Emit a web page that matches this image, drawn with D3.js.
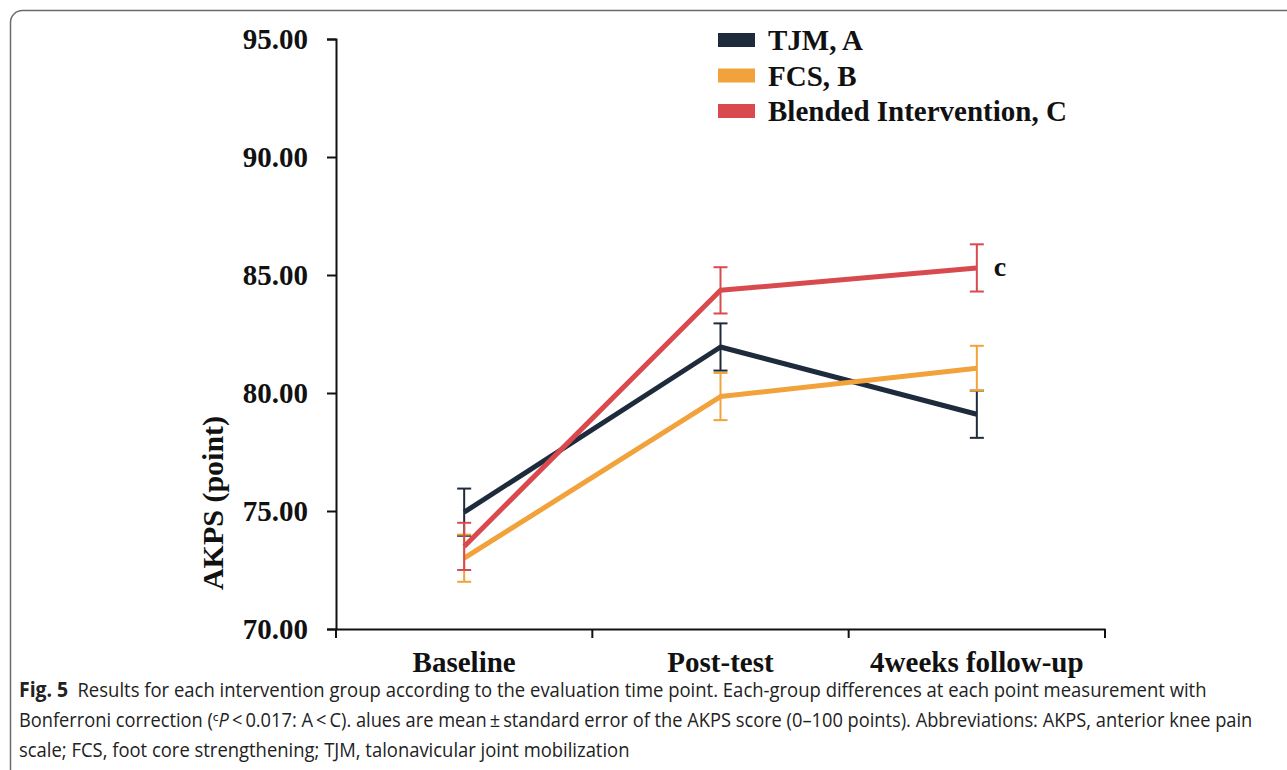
<html>
<head>
  <meta charset="utf-8">
  <title>AKPS by time point</title>
  <script src="https://cdn.jsdelivr.net/npm/d3@7"></script>
  <style>
    html, body { margin: 0; padding: 0; background: #fff; overflow: hidden; }
    svg { display: block; }
    .serif { font-family: "Liberation Serif", "Times New Roman", serif; font-weight: bold; }
    .caption { font-family: "Open Sans", "Noto Sans", sans-serif; font-size: 20px; fill: #222; }
  </style>
</head>
<body>
<svg width="1287" height="770"></svg>
<script>
const categories = ["Baseline", "Post-test", "4weeks follow-up"];
const groups = ["TJM, A", "FCS, B", "Blended Intervention, C"];
const tjmMean = [74.95, 81.95, 79.1];
const tjmSE = [1.0, 1.0, 1.0];
const fcsMean = [73.0, 79.85, 81.05];
const fcsSE = [1.0, 1.0, 0.95];
const blendedMean = [73.5, 84.35, 85.3];
const blendedSE = [1.0, 0.98, 1.0];
const yTicks = [70, 75, 80, 85, 90, 95];
const colors = ["#1e2b3c", "#f2a23a", "#d94a4f"];

const series = [
  { name: groups[0], mean: tjmMean, se: tjmSE, color: colors[0] },
  { name: groups[1], mean: fcsMean, se: fcsSE, color: colors[1] },
  { name: groups[2], mean: blendedMean, se: blendedSE, color: colors[2] }
];

const svg = d3.select("svg");

// frame around figure + caption
svg.append("rect")
  .attr("x", 10.5).attr("y", 10.5)
  .attr("width", 1400).attr("height", 1000)
  .attr("rx", 12)
  .attr("fill", "none")
  .attr("stroke", "#6b6b6b")
  .attr("stroke-width", 1.5);

const x = d3.scaleBand().domain(categories).range([336, 1105]).padding(0);
const y = d3.scaleLinear().domain([70, 95]).range([629, 39]);
const cx = d => x(d) + x.bandwidth() / 2;

// y axis
const yAxis = svg.append("g")
  .attr("transform", "translate(336,0)")
  .call(d3.axisLeft(y).tickValues(yTicks).tickFormat(d3.format(".2f"))
    .tickSize(9).tickSizeOuter(9).tickPadding(19));
yAxis.select(".domain").attr("stroke", "#111").attr("stroke-width", 2);
yAxis.selectAll(".tick line").attr("stroke", "#111").attr("stroke-width", 2);
yAxis.selectAll(".tick text").attr("class", "serif").attr("fill", "#111")
  .style("font-size", "29px");

// x axis: labels at band centres, ticks at band boundaries
const xAxis = svg.append("g")
  .attr("transform", "translate(0,629)")
  .call(d3.axisBottom(x).tickSize(0).tickPadding(22).tickSizeOuter(0));
xAxis.select(".domain").attr("stroke", "#111").attr("stroke-width", 2);
xAxis.selectAll(".tick text").attr("class", "serif").attr("fill", "#111")
  .style("font-size", "29px");
const bounds = categories.map(d => x(d)).concat([x.range()[1]]);
xAxis.selectAll(".bound")
  .data(bounds)
  .enter()
  .append("line")
  .attr("x1", d => d).attr("x2", d => d)
  .attr("y1", 0).attr("y2", 9)
  .attr("stroke", "#111")
  .attr("stroke-width", 2);

// y label
svg.append("text")
  .attr("class", "serif")
  .attr("transform", "translate(223,503) rotate(-90)")
  .attr("text-anchor", "middle")
  .style("font-size", "30px")
  .attr("fill", "#111")
  .text("AKPS (point)");

// lines and error bars
const line = d3.line().x((d, i) => cx(categories[i])).y(d => y(d));
series.forEach(s => {
  svg.append("path")
    .datum(s.mean)
    .attr("d", line)
    .attr("fill", "none")
    .attr("stroke", s.color)
    .attr("stroke-width", 5)
    .attr("stroke-linejoin", "round");

  const eb = svg.append("g");
  s.mean.forEach((m, i) => {
    const px = cx(categories[i]);
    eb.append("line")
      .attr("x1", px).attr("x2", px)
      .attr("y1", y(m + s.se[i])).attr("y2", y(m - s.se[i]))
      .attr("stroke", s.color).attr("stroke-width", 2);
    [m + s.se[i], m - s.se[i]].forEach(v => {
      eb.append("line")
        .attr("x1", px - 7).attr("x2", px + 7)
        .attr("y1", y(v)).attr("y2", y(v))
        .attr("stroke", s.color).attr("stroke-width", 2);
    });
  });
});

// significance mark
svg.append("text")
  .attr("class", "serif")
  .attr("x", cx(categories[2]) + 17)
  .attr("y", y(blendedMean[2]) + 8)
  .style("font-size", "28px")
  .attr("fill", "#111")
  .text("c");

// legend
const legend = svg.append("g").attr("transform", "translate(718,40)");
series.forEach((s, i) => {
  const g = legend.append("g").attr("transform", `translate(0,${i * 35.5})`);
  g.append("rect")
    .attr("x", 0).attr("y", -7)
    .attr("width", 37).attr("height", 14)
    .attr("fill", s.color);
  g.append("text")
    .attr("class", "serif")
    .attr("x", 50).attr("y", 10)
    .style("font-size", "29px")
    .attr("fill", "#111")
    .text(s.name);
});

// caption: each line squeezed horizontally to the reference width
function fitLine(t, yPos, width) {
  const w = t.node().getComputedTextLength();
  t.attr("transform", `translate(19,${yPos}) scale(${width / w},1)`);
}
const cap = svg.append("g");
const l1 = cap.append("text").attr("class", "caption");
l1.append("tspan").style("font-weight", "bold").style("font-size", "21px").text("Fig. 5");
l1.append("tspan").text("\u2002Results for each intervention group according to the evaluation time point. Each-group differences at each point measurement with");
fitLine(l1, 697, 1188);

const l2 = cap.append("text").attr("class", "caption");
l2.append("tspan").text("Bonferroni correction (\u1d9c");
l2.append("tspan").style("font-style", "italic").text("P\u2009");
l2.append("tspan").text("<\u20090.017: A\u2009<\u2009C). alues are mean\u2009\u00b1\u2009standard error of the AKPS score (0\u2013100 points). Abbreviations: AKPS, anterior knee pain");
fitLine(l2, 727, 1234);

const l3 = cap.append("text").attr("class", "caption")
  .text("scale; FCS, foot core strengthening; TJM, talonavicular joint mobilization");
fitLine(l3, 757, 611);
</script>
</body>
</html>
